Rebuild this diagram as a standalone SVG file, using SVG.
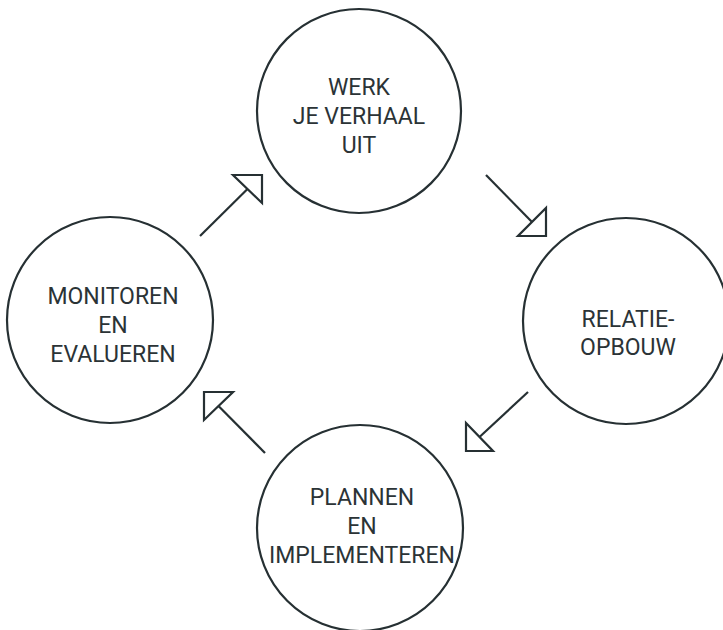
<svg xmlns="http://www.w3.org/2000/svg" width="723" height="630" viewBox="0 0 723 630">
  <style>
    .node circle { fill: #ffffff; stroke: #263033; stroke-width: 2.2; }
    .node text { font-family: Roboto, "Liberation Sans", sans-serif; font-size: 23px; fill: #2b3336; text-anchor: middle; }
    .conn line { stroke: #263033; stroke-width: 2.2; }
    .conn polygon { fill: #ffffff; stroke: #263033; stroke-width: 2.2; stroke-linejoin: miter; }
  </style>
  <rect width="723" height="630" fill="#ffffff"/>

  <g id="connectors" class="conn">
    <!-- monitoring -> story -->
    <line x1="200" y1="236" x2="247.5" y2="189"/>
    <polygon points="233,175 262,175 262,203"/>
    <!-- story -> relationship -->
    <line x1="486" y1="175" x2="532" y2="222"/>
    <polygon points="518,236 546,236 546,208"/>
    <!-- relationship -> planning -->
    <line x1="528" y1="392" x2="479.5" y2="437"/>
    <polygon points="466,423 466,451 493,451"/>
    <!-- planning -> monitoring -->
    <line x1="265" y1="453" x2="218.5" y2="406"/>
    <polygon points="204,392 233,392 204,420"/>
  </g>

  <g id="node-verhaal" class="node">
    <circle cx="359" cy="111" r="102"/>
    <text x="359" y="95">WERK</text>
    <text x="359" y="124">JE VERHAAL</text>
    <text x="359" y="153">UIT</text>
  </g>

  <g id="node-relatie" class="node">
    <circle cx="626" cy="321" r="103"/>
    <text x="628" y="327">RELATIE-</text>
    <text x="628" y="355">OPBOUW</text>
  </g>

  <g id="node-plannen" class="node">
    <circle cx="360" cy="528" r="103"/>
    <text x="362" y="505">PLANNEN</text>
    <text x="362" y="534">EN</text>
    <text x="362" y="563">IMPLEMENTEREN</text>
  </g>

  <g id="node-monitoren" class="node">
    <circle cx="110" cy="320" r="103"/>
    <text x="113" y="304">MONITOREN</text>
    <text x="113" y="333">EN</text>
    <text x="113" y="362">EVALUEREN</text>
  </g>
</svg>
